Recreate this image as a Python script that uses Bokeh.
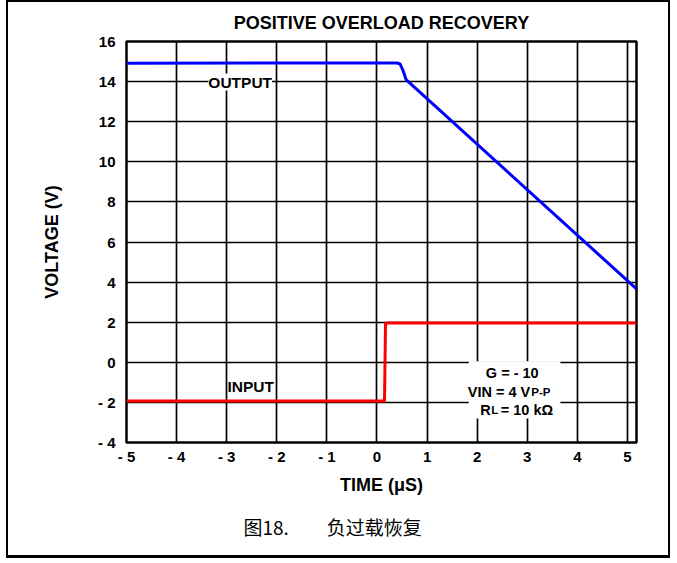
from bokeh.plotting import figure
from bokeh.models import FixedTicker, Label, BoxAnnotation, Title
from bokeh.embed import file_html
from bokeh.resources import INLINE

# ---- data ----
x_ticks = [-5, -4, -3, -2, -1, 0, 1, 2, 3, 4, 5]
x_tick_labels = ["- 5", "- 4", "- 3", "- 2", "- 1", "0", "1", "2", "3", "4", "5"]
y_ticks = [-4, -2, 0, 2, 4, 6, 8, 10, 12, 14, 16]
y_tick_labels = ["- 4", "- 2", "0", "2", "4", "6", "8", "10", "12", "14", "16"]

output_t = [-5.0, 0.40, 0.46, 0.52, 0.58, 5.18]
output_v = [14.92, 14.93, 14.88, 14.55, 14.10, 3.66]

input_t = [-5.0, 0.15, 0.17, 0.19, 5.18]
input_v = [-1.93, -1.93, 1.90, 1.96, 1.96]

FONT = "Liberation Sans"
CJK = "Noto Sans CJK SC"

p = figure(width=664, height=558, x_range=(-5, 5.18), y_range=(-4, 16),
           output_backend="svg", toolbar_location=None,
           min_border_left=118, min_border_right=36,
           min_border_top=38, min_border_bottom=118)
p.styles = {"margin-left": "6px",
            "border-left": "2px solid black", "border-right": "2px solid black",
            "border-bottom": "3px solid black", "border-top": "2px solid black"}
p.background_fill_color = "white"
p.border_fill_color = "white"
p.outline_line_color = "black"
p.outline_line_width = 2.5
p.outline_line_alpha = 1.0

p.title.text = "POSITIVE OVERLOAD RECOVERY"
p.title.align = "center"
p.title.text_font = FONT
p.title.text_font_size = "18px"
p.title.text_font_style = "bold"
p.title.text_color = "black"
p.title.standoff = 17

caption = Title(text="图18.\u3000\u3000负过载恢复", align="left", offset=117,
                text_font=CJK, text_font_size="19px", text_font_style="normal",
                text_color="black", standoff=26)
p.add_layout(caption, "below")

for ax, ticks, labels in ((p.xaxis[0], x_ticks, x_tick_labels), (p.yaxis[0], y_ticks, y_tick_labels)):
    ax.ticker = FixedTicker(ticks=ticks)
    ax.major_label_overrides = dict(zip(ticks, labels))
    ax.axis_line_color = None
    ax.major_tick_line_color = None
    ax.minor_tick_line_color = None
    ax.major_tick_out = 0
    ax.major_tick_in = 0
    ax.major_label_text_font = FONT
    ax.major_label_text_font_size = "15px"
    ax.major_label_text_font_style = "bold"
    ax.major_label_text_color = "black"
    ax.axis_label_text_font = FONT
    ax.axis_label_text_font_size = "18px"
    ax.axis_label_text_font_style = "bold"
    ax.axis_label_text_color = "black"

p.xaxis.axis_label = "TIME (μS)"
p.yaxis.axis_label = "VOLTAGE (V)"
p.xaxis.major_label_standoff = 5
p.xaxis.axis_label_standoff = 7
p.yaxis.major_label_standoff = 11
p.yaxis.axis_label_standoff = 33

p.xgrid[0].ticker = FixedTicker(ticks=x_ticks)
p.ygrid[0].ticker = FixedTicker(ticks=y_ticks)
for g in (p.xgrid[0], p.ygrid[0]):
    g.grid_line_color = "black"
    g.grid_line_width = 1.7
    g.grid_line_alpha = 1.0

p.line(output_t, output_v, line_color="#0000ff", line_width=3)
p.line(input_t, input_v, line_color="#ff0000", line_width=3)

# info box
p.add_layout(BoxAnnotation(left=1.83, right=3.66, top=0.05, bottom=-2.8,
                           fill_color="white", fill_alpha=1.0, line_color=None))

def lab(x, y, text, size="15px", align="center", baseline="alphabetic", bold=True,
        font=FONT, bg=None):
    l = Label(x=x, y=y, text=text, text_align=align, text_baseline=baseline,
              text_font=font, text_font_size=size,
              text_font_style="bold" if bold else "normal", text_color="black")
    if bg:
        l.background_fill_color = bg
        l.background_fill_alpha = 1.0
    p.add_layout(l)

lab(-2.73, 13.98, "OUTPUT", size="15.5px", bg="white")
lab(-2.52, -1.21, "INPUT", size="15.5px")

lab(2.70, -0.52, "G = - 10", size="14.5px")
lab(3.06, -1.46, "VIN = 4 V", size="14.5px", align="right")
lab(3.08, -1.50, "P-P", size="11.5px", align="left")
lab(2.27, -2.36, "R", size="14.5px", align="right")
lab(2.28, -2.40, "L", size="11.5px", align="left")
lab(2.47, -2.36, "= 10 kΩ", size="14.5px", align="left")

open("out.html", "w").write(file_html(p, INLINE))
